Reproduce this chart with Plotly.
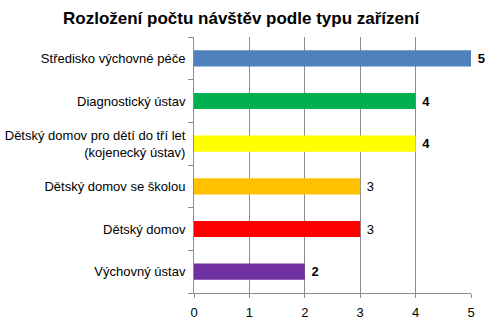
import plotly.graph_objects as go

categories = [
    "Výchovný ústav",
    "Dětský domov",
    "Dětský domov se školou",
    "Dětský domov pro dětí do tří let<br>(kojenecký ústav)",
    "Diagnostický ústav",
    "Středisko výchovné péče",
]
values = [2, 3, 3, 4, 4, 5]
colors = ["#7030A0", "#FF0000", "#FFC000", "#FFFF00", "#00B050", "#4F81BD"]
bold = [True, False, False, True, True, True]
labels = [("<b>%d</b>" % v) if b else str(v) for v, b in zip(values, bold)]
x_ticks = [0, 1, 2, 3, 4, 5]

fig = go.Figure()
fig.add_trace(go.Bar(
    y=categories, x=values, orientation="h",
    marker=dict(color=colors, line=dict(width=0)),
    text=[" " + t for t in labels], textposition="outside",
    textfont=dict(family="Liberation Sans, Arial", size=13, color="black"),
    cliponaxis=False, constraintext="none",
))
fig.update_layout(
    width=489, height=320,
    margin=dict(l=194, r=18, t=37, b=27),
    paper_bgcolor="white", plot_bgcolor="white",
    bargap=0.62,
    showlegend=False,
    font=dict(family="Liberation Sans, Arial", size=13, color="black"),
    title=dict(
        text="<b>Rozložení počtu návštěv podle typu zařízení</b>",
        x=0.493, xanchor="center", y=0.945, yanchor="middle",
        font=dict(family="Liberation Sans, Arial", size=17, color="black"),
    ),
    xaxis=dict(
        range=[0, 5], tickvals=x_ticks, showgrid=True, gridcolor="#8C8C8C", gridwidth=1,
        showline=True, linecolor="#8C8C8C", linewidth=1,
        ticks="outside", ticklen=4, tickcolor="#8C8C8C",
        tickfont=dict(size=13), zeroline=False, ticklabelstandoff=3,
        automargin=False,
    ),
    yaxis=dict(
        type="category", categoryorder="array", categoryarray=categories,
        showline=True, linecolor="#8C8C8C", linewidth=1,
        ticks="outside", ticklen=5, tickcolor="#8C8C8C", tickson="boundaries",
        tickfont=dict(size=13), ticklabelstandoff=5, showgrid=False,
        automargin=False,
    ),
)
fig.write_html("out.html")
